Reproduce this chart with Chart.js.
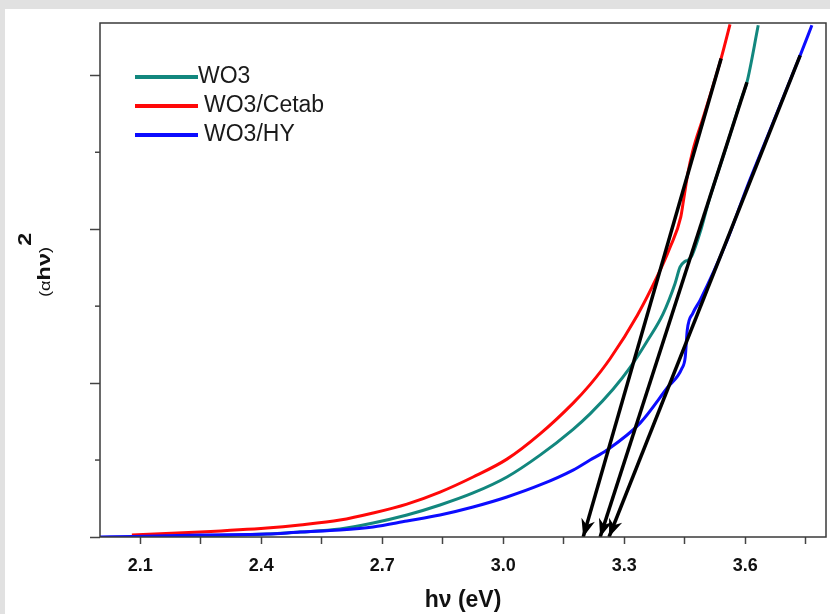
<!DOCTYPE html>
<html>
<head>
<meta charset="utf-8">
<script src="https://cdn.jsdelivr.net/npm/chart.js@4.4.1/dist/chart.umd.min.js"></script>
<style>
  html, body { margin: 0; padding: 0; background: #e1e1e1; }
  canvas { display: block; }
</style>
</head>
<body>
<canvas id="tauc" width="830" height="614"></canvas>
<script>
// Tauc plot (αhν)^2 vs hν for the three samples
var seriesNames = ["WO3", "WO3/Cetab", "WO3/HY"];
var seriesColors = ["#12877e", "#ff0808", "#0c0cff"];

var wo3X = [2.082, 2.248, 2.414, 2.496, 2.595, 2.677, 2.761, 2.843, 2.925, 3.009, 3.091, 3.173, 3.215, 3.272, 3.314, 3.356, 3.396, 3.426, 3.438, 3.451, 3.458, 3.468, 3.488, 3.510, 3.550, 3.589, 3.604, 3.632];
var wo3Y = [0.003, 0.006, 0.019, 0.032, 0.052, 0.091, 0.143, 0.208, 0.286, 0.390, 0.532, 0.700, 0.800, 0.960, 1.100, 1.270, 1.450, 1.649, 1.753, 1.792, 1.799, 1.831, 1.981, 2.188, 2.513, 2.838, 2.955, 3.325];

var cetabX = [2.079, 2.248, 2.414, 2.496, 2.595, 2.677, 2.761, 2.843, 2.925, 3.009, 3.091, 3.173, 3.215, 3.265, 3.332, 3.381, 3.413, 3.440, 3.448, 3.458, 3.470, 3.495, 3.540, 3.562];
var cetabY = [0.013, 0.032, 0.058, 0.078, 0.110, 0.156, 0.214, 0.292, 0.390, 0.506, 0.670, 0.870, 0.990, 1.160, 1.440, 1.690, 1.880, 2.080, 2.210, 2.370, 2.513, 2.721, 3.110, 3.331];

var hyX = [2.000, 2.082, 2.248, 2.414, 2.496, 2.595, 2.677, 2.761, 2.843, 2.925, 3.009, 3.091, 3.173, 3.215, 3.257, 3.339, 3.406, 3.443, 3.451, 3.456, 3.470, 3.488, 3.555, 3.604, 3.656, 3.706, 3.736, 3.765];
var hyY = [0.0, 0.003, 0.013, 0.019, 0.032, 0.045, 0.065, 0.104, 0.143, 0.195, 0.260, 0.338, 0.435, 0.500, 0.565, 0.740, 0.968, 1.097, 1.169, 1.344, 1.455, 1.539, 1.929, 2.273, 2.610, 2.935, 3.130, 3.325];

// tangent (band-gap) arrows: upper point -> x intercept
var tangentTopX = [3.540, 3.604, 3.736];
var tangentTopY = [3.110, 2.955, 3.130];
var tangentBaseX = [3.198, 3.240, 3.262];

var xTickLabels = [2.1, 2.4, 2.7, 3.0, 3.3, 3.6];
var xMinorTicks = [2.25, 2.55, 2.85, 3.15, 3.45, 3.75];
var yMajorTicks = [0, 1, 2, 3];
var yMinorTicks = [0.5, 1.5, 2.5];

var FONT = "'Liberation Sans', Arial, sans-serif";

function toPoints(xs, ys) {
  return xs.map(function (x, i) { return { x: x, y: ys[i] }; });
}

var curveX = [wo3X, cetabX, hyX];
var curveY = [wo3Y, cetabY, hyY];
var curveOrder = [2, 3, 1];

var datasets = [];
for (var i = 0; i < seriesNames.length; i++) {
  datasets.push({
    label: seriesNames[i],
    data: toPoints(curveX[i], curveY[i]),
    borderColor: seriesColors[i],
    borderWidth: 3,
    pointRadius: 0,
    cubicInterpolationMode: "monotone",
    order: curveOrder[i],
    isCurve: true
  });
}
for (var j = 0; j < tangentTopX.length; j++) {
  datasets.push({
    label: "",
    data: [{ x: tangentTopX[j], y: tangentTopY[j] }, { x: tangentBaseX[j], y: 0 }],
    borderColor: "#000",
    borderWidth: 3.5,
    pointRadius: 0,
    tension: 0,
    order: 0,
    isArrow: true
  });
}

var panelPlugin = {
  id: "panel",
  beforeDraw: function (chart) {
    var ctx = chart.ctx;
    ctx.save();
    ctx.fillStyle = "#e1e1e1";
    ctx.fillRect(0, 0, chart.width, chart.height);
    ctx.fillStyle = "#ffffff";
    ctx.fillRect(5, 9, chart.width - 5, chart.height - 9);
    ctx.restore();
  }
};

var decorPlugin = {
  id: "decor",
  afterDatasetsDraw: function (chart) {
    var ctx = chart.ctx, a = chart.chartArea;
    ctx.save();
    // arrow heads
    chart.data.datasets.forEach(function (ds, k) {
      if (!ds.isArrow) return;
      var pts = chart.getDatasetMeta(k).data;
      var p0 = pts[0], p1 = pts[1];
      var ang = Math.atan2(p1.y - p0.y, p1.x - p0.x);
      var c = Math.cos(ang), s = Math.sin(ang);
      var len = 18, half = 7;
      ctx.fillStyle = "#000";
      ctx.beginPath();
      ctx.moveTo(p1.x, p1.y);
      ctx.lineTo(p1.x - len * c + half * s, p1.y - len * s - half * c);
      ctx.lineTo(p1.x - len * 0.7 * c, p1.y - len * 0.7 * s);
      ctx.lineTo(p1.x - len * c - half * s, p1.y - len * s + half * c);
      ctx.closePath();
      ctx.fill();
    });
    // frame
    ctx.strokeStyle = "#3a3a3a";
    ctx.lineWidth = 1.5;
    ctx.strokeRect(a.left, a.top, a.right - a.left, a.bottom - a.top);
    // minor y ticks
    var ys = chart.scales.y;
    ctx.strokeStyle = "#444";
    yMinorTicks.forEach(function (v) {
      var py = ys.getPixelForValue(v);
      ctx.beginPath();
      ctx.moveTo(a.left - 5, py);
      ctx.lineTo(a.left, py);
      ctx.stroke();
    });
    ctx.restore();
  },
  afterDraw: function (chart) {
    var ctx = chart.ctx;
    ctx.save();
    // legend
    var rowY = [77, 106, 135];
    var k = 0;
    chart.data.datasets.forEach(function (ds) {
      if (!ds.isCurve) return;
      var y = rowY[k];
      ctx.strokeStyle = ds.borderColor;
      ctx.lineWidth = 4;
      ctx.beginPath();
      ctx.moveTo(135, y);
      ctx.lineTo(198, y);
      ctx.stroke();
      ctx.fillStyle = "#1a1a1a";
      ctx.font = "23px " + FONT;
      ctx.textBaseline = "middle";
      ctx.fillText(ds.label, k === 0 ? 198 : 204, y);
      k++;
    });
    // y axis title (αhν)^2, rotated and a bit stretched like the original
    ctx.translate(50, 297);
    ctx.rotate(-Math.PI / 2);
    ctx.scale(1.3, 1);
    ctx.fillStyle = "#111";
    ctx.textBaseline = "alphabetic";
    var parts = [["(", "14px " + FONT], ["α", "14px " + FONT], ["hν", "bold 18px " + FONT], [")", "14px " + FONT]];
    var x = 0;
    parts.forEach(function (p) {
      ctx.font = p[1];
      ctx.fillText(p[0], x, 0);
      x += ctx.measureText(p[0]).width;
    });
    ctx.font = "bold 18px " + FONT;
    ctx.fillText("2", x + 1, -19);
    ctx.restore();
  }
};

new Chart(document.getElementById("tauc"), {
  type: "line",
  data: { datasets: datasets },
  plugins: [panelPlugin, decorPlugin],
  options: {
    responsive: false,
    animation: false,
    layout: { padding: { left: 0, right: 4, top: 23, bottom: 0 } },
    plugins: {
      legend: { display: false },
      tooltip: { enabled: false }
    },
    scales: {
      x: {
        type: "linear",
        min: 2.0,
        max: 3.8,
        afterBuildTicks: function (axis) {
          axis.ticks = xTickLabels.concat(xMinorTicks).sort(function (a, b) { return a - b; })
            .map(function (v) { return { value: v }; });
        },
        afterFit: function (axis) { axis.height = 77; },
        ticks: {
          autoSkip: false,
          maxRotation: 0,
          padding: 11,
          color: "#111",
          font: { family: FONT, size: 18, weight: "bold" },
          callback: function (value) {
            var hit = xTickLabels.some(function (t) { return Math.abs(t - value) < 1e-6; });
            return hit ? value.toFixed(1) : "";
          }
        },
        grid: { drawOnChartArea: false, drawTicks: true, tickLength: 7, tickColor: "#444", tickWidth: 1.5 },
        border: { display: false },
        title: {
          display: true,
          text: "hν (eV)",
          color: "#111",
          font: { family: FONT, size: 23, weight: "bold" },
          padding: { top: 0, bottom: 0 }
        }
      },
      y: {
        type: "linear",
        min: 0,
        max: 3.34,
        afterBuildTicks: function (axis) {
          axis.ticks = yMajorTicks.map(function (v) { return { value: v }; });
        },
        afterFit: function (axis) { axis.width = 100; },
        ticks: { display: false },
        grid: { drawOnChartArea: false, drawTicks: true, tickLength: 10, tickColor: "#444", tickWidth: 1.5 },
        border: { display: false }
      }
    }
  }
});
</script>
</body>
</html>
